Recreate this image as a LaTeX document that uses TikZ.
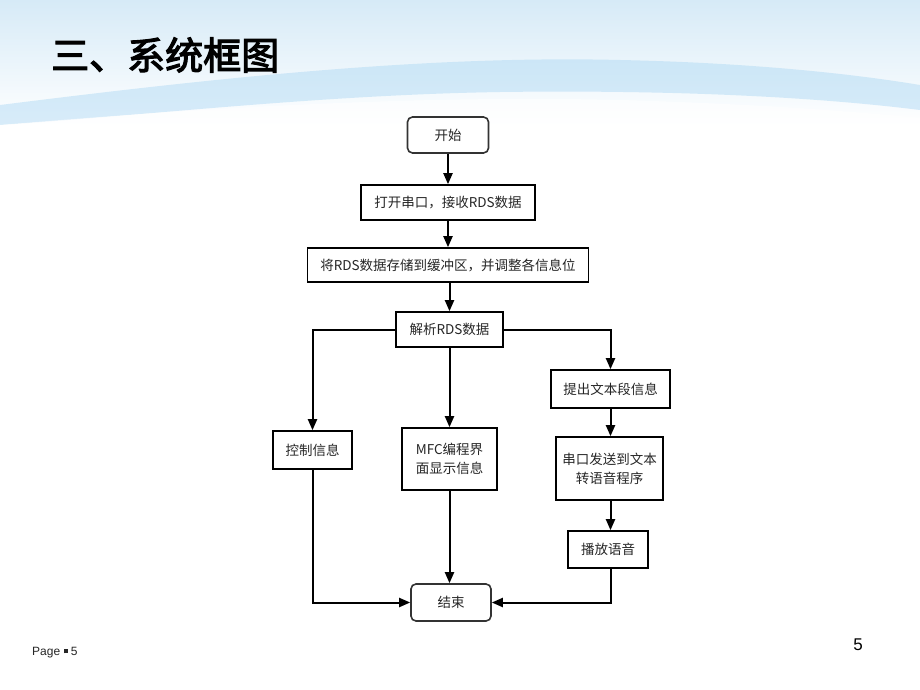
\documentclass[tikz,border=0pt]{standalone}
\usepackage{fontspec}
\setmainfont{Liberation Sans}
\newfontfamily\cjk{Noto Sans CJK SC}
\newfontfamily\cjkbold{Noto Sans CJK SC}[FakeBold=3]
\usetikzlibrary{arrows.meta}
\definecolor{skyA}{HTML}{D6EAF7}
\definecolor{skyB}{HTML}{A9D6F3}
\tikzset{
  box/.style={draw=black, line width=1.6pt, fill=white, inner sep=0pt, text=black!85, font=\cjk\fontsize{13.5}{17}\selectfont, align=center},
  term/.style={box, rounded corners=5pt, draw=black!80},
  flow/.style={line width=2pt, -{Triangle[length=11pt,width=9pt]}},
}
\begin{document}
\begin{tikzpicture}[x=1pt,y=-1pt]
\useasboundingbox (0,0) rectangle (920,690);
% background
\fill[white] (0,0) rectangle (920,690);
\shade[top color=skyA, bottom color=white] (0,0) rectangle (920,125);
\fill[skyB, opacity=0.45] (0,105) .. controls (200,80) and (420,55) .. (620,60) .. controls (760,63) and (860,75) .. (920,85) -- (920,110) .. controls (800,95) and (650,90) .. (500,92) .. controls (320,95) and (150,115) .. (0,125) -- cycle;
\fill[white, opacity=0.6] (0,125) .. controls (200,108) and (420,95) .. (620,100) .. controls (760,104) and (860,112) .. (920,118) -- (920,125) -- (0,125) -- cycle;
% title
\node[anchor=west, inner sep=0pt, font=\cjkbold\fontsize{38}{40}\selectfont] (title) at (51,55) {三、系统框图};
% nodes
\node[term, minimum width=81pt, minimum height=36pt] (start) at (448,135) {开始};
\node[box, minimum width=174pt, minimum height=35pt] (open) at (448,202.5) {打开串口，接收RDS数据};
\node[box, minimum width=281pt, minimum height=34pt] (store) at (448,265) {将RDS数据存储到缓冲区，并调整各信息位};
\node[box, minimum width=107pt, minimum height=35pt] (parse) at (449.5,329.5) {解析RDS数据};
\node[box, minimum width=119pt, minimum height=38pt] (extract) at (610.5,389) {提出文本段信息};
\node[box, minimum width=79pt, minimum height=38pt] (ctrl) at (312.5,450) {控制信息};
\node[box, minimum width=95pt, minimum height=62pt] (mfc) at (449.5,459) {MFC编程界\\[2pt]面显示信息};
\node[box, minimum width=107pt, minimum height=63pt] (send) at (609.5,468.5) {串口发送到文本\\[2pt]转语音程序};
\node[box, minimum width=80pt, minimum height=37pt] (play) at (608,549.5) {播放语音};
\node[term, minimum width=80pt, minimum height=37pt] (end) at (451,602.5) {结束};
% connectors
\draw[flow] (start) -- (open);
\draw[flow] (open) -- (store);
\draw[flow] (store.south -| parse) -- (parse);
\draw[flow] (parse.west) -| (ctrl.north);
\draw[flow] (parse.east) -| (extract.north);
\draw[flow] (parse) -- (mfc);
\draw[flow] (extract) -- (extract |- send.north);
\draw[flow] (send.south -| extract) -- (extract |- play.north);
\draw[flow] (mfc) -- (mfc |- end.north);
\draw[flow] (ctrl.south) |- (end.west);
\draw[flow] (extract |- play.south) |- (end.east);
% footer
\node[anchor=west, inner sep=0pt, text=black!85, font=\fontsize{12}{14}\selectfont] (page) at (32,653) {Page \raisebox{2.5pt}{\rule{4pt}{4pt}} 5};
\node[anchor=center, inner sep=0pt, font=\fontsize{17}{20}\selectfont] (num) at (858,645) {5};
\end{tikzpicture}
\end{document}
